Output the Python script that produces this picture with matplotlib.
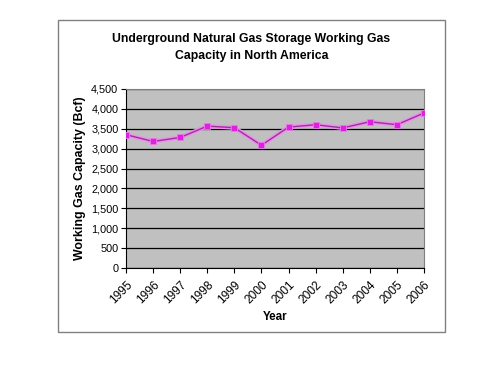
import matplotlib.pyplot as plt
from matplotlib.patches import Rectangle

plt.rcParams['font.family'] = ['Liberation Sans', 'DejaVu Sans']

# --- data ---
years = ['1995', '1996', '1997', '1998', '1999', '2000',
         '2001', '2002', '2003', '2004', '2005', '2006']
capacity = [3350, 3180, 3280, 3565, 3525, 3085,
            3540, 3600, 3520, 3675, 3600, 3895]
y_ticks = [0, 500, 1000, 1500, 2000, 2500, 3000, 3500, 4000, 4500]

fig = plt.figure(figsize=(5, 3.75), dpi=100)

# outer chart border (Excel chart area)
fig.patches.append(Rectangle((0.116, 0.115), 0.774, 0.832, transform=fig.transFigure,
                             fill=False, edgecolor='#808080', linewidth=1.0))

ax = fig.add_axes([0.252, 0.285, 0.596, 0.478])
ax.set_facecolor('#C0C0C0')

x = list(range(len(years)))
ax.plot(x, capacity, color='#F08CF0', linewidth=3.0, zorder=3)
ax.plot(x, capacity, color='#993399', linewidth=1.0, marker='s', markersize=5,
        markerfacecolor='#E020E0', markeredgecolor='#E878E8', markeredgewidth=0.6, zorder=4)

ax.set_xlim(0, len(years) - 1)
ax.set_ylim(0, 4500)
ax.set_yticks(y_ticks)
ax.set_yticklabels([f'{v:,}' for v in y_ticks], fontsize=7.8)
ax.set_xticks(x)
ax.set_xticklabels(years, rotation=45, ha='right', rotation_mode='anchor', fontsize=8.6)
ax.grid(axis='y', color='black', linewidth=0.9)
ax.set_axisbelow(True)

ax.tick_params(axis='both', direction='out', length=3.5, width=0.8, color='black', pad=2)
ax.tick_params(axis='x', pad=4)
for side in ['top', 'right']:
    ax.spines[side].set_color('#808080')
for side in ['left', 'bottom']:
    ax.spines[side].set_color('black')

ax.set_xlabel('Year', fontsize=8.4, fontweight='bold', labelpad=4)
ax.set_ylabel('Working Gas Capacity (Bcf)', fontsize=8.9, fontweight='bold', labelpad=4)

fig.text(0.503, 0.874, 'Underground Natural Gas Storage Working Gas\nCapacity in North America',
         ha='center', va='center', fontsize=8.8, fontweight='bold', linespacing=1.6)

fig.savefig('out.png', dpi=100, facecolor='white')
